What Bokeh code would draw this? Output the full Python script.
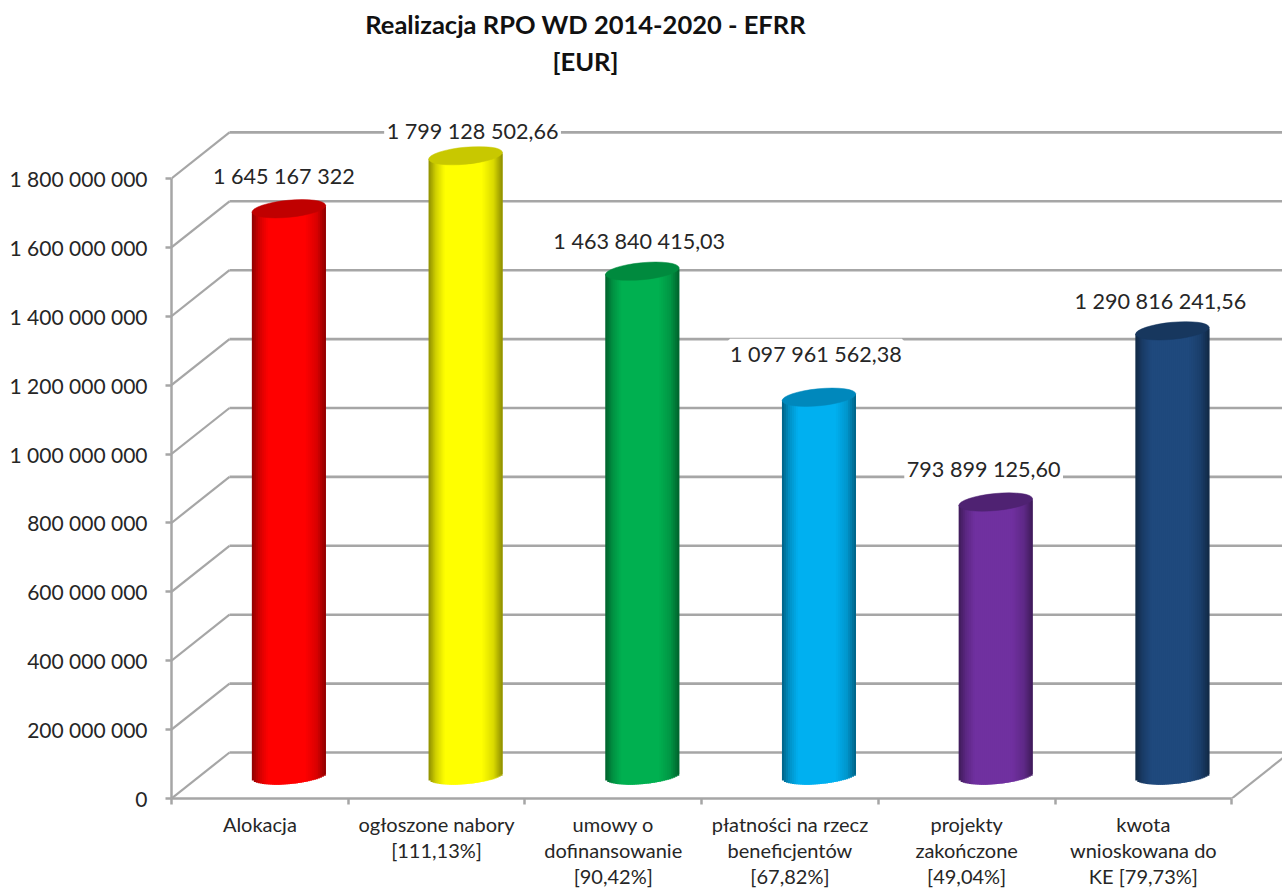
from bokeh.plotting import figure
from bokeh.core.properties import value
from bokeh.models import (ColumnDataSource, FixedTicker, Label, LabelSet, LinearAxis, Range1d)
from bokeh.embed import file_html
from bokeh.resources import INLINE
import numpy as np

title_text = "Realizacja RPO WD 2014-2020 - EFRR\n[EUR]"
categories = ["Alokacja", "ogłoszone nabory\n[111,13%]", "umowy o\ndofinansowanie\n[90,42%]",
              "płatności na rzecz\nbeneficjentów\n[67,82%]", "projekty\nzakończone\n[49,04%]",
              "kwota\nwnioskowana do\nKE [79,73%]"]
values = [1645167322, 1799128502.66, 1463840415.03, 1097961562.38, 793899125.60, 1290816241.56]
value_labels = ["1 645 167 322", "1 799 128 502,66", "1 463 840 415,03",
                "1 097 961 562,38", "793 899 125,60", "1 290 816 241,56"]
face_colors = ["#FF0000", "#FFFF00", "#00B050", "#00B0F0", "#7030A0", "#1F497D"]
cap_colors = ["#C00000", "#C8C800", "#008A3E", "#0088BC", "#4F2272", "#17375E"]
y_ticks = list(range(0, 2000000000, 200000000))
y_tick_labels = ["0", "200 000 000", "400 000 000", "600 000 000", "800 000 000", "1 000 000 000",
                 "1 200 000 000", "1 400 000 000", "1 600 000 000", "1 800 000 000"]
label_dx = [-5, 7, -3, -3, -12, -12]
label_dy = [33, 25, 30, 43, 33, 30]

GREY = "#A6A6A6"
TEXT = "#262626"
SLOT_PX = 176.7
STEP_PX = 68.9
LEFT_PX, FLOOR_PX = 171, 798
W, H = 1282, 889
px_x = 1 / SLOT_PX
px_y = 200000000 / STEP_PX
depth_x, depth_y = 58 * px_x, 46 * px_y

p = figure(width=W, height=H, frame_width=W - LEFT_PX, frame_height=FLOOR_PX,
           output_backend="svg", toolbar_location=None, title=None,
           x_range=Range1d(0, (W - LEFT_PX) * px_x), y_range=Range1d(0, FLOOR_PX * px_y),
           min_border_left=LEFT_PX, min_border_right=0, min_border_top=0, min_border_bottom=H - FLOOR_PX,
           x_axis_type=None, y_axis_type=None, outline_line_color=None)
p.grid.visible = False

# 3D wall lines
n = len(categories)
p.segment(x0=[depth_x] * len(y_ticks), y0=[v + depth_y for v in y_ticks],
          x1=[(W - LEFT_PX) * px_x] * len(y_ticks), y1=[v + depth_y for v in y_ticks],
          line_color=GREY, line_width=2.6)
p.segment(x0=[0] * len(y_ticks), y0=y_ticks, x1=[depth_x] * len(y_ticks),
          y1=[v + depth_y for v in y_ticks], line_color=GREY, line_width=2.2)
p.segment(x0=[n], y0=[0], x1=[n + depth_x], y1=[depth_y], line_color=GREY, line_width=2.2)

# Axes
ya = LinearAxis(ticker=FixedTicker(ticks=y_ticks), bounds=(0, y_ticks[-1]),
                major_label_overrides=dict(zip(y_ticks, y_tick_labels)),
                major_label_text_font="Lato", major_label_text_font_size="21px",
                major_label_text_color=TEXT, major_label_standoff=18,
                axis_line_color=GREY, axis_line_width=2.5, major_tick_line_color=GREY,
                major_tick_line_width=2.5, major_tick_in=0, major_tick_out=6, minor_tick_line_color=None)
p.add_layout(ya, "left")
centres = [i + 0.5 for i in range(n)]
xa = LinearAxis(ticker=FixedTicker(ticks=centres, minor_ticks=list(range(n + 1))), bounds=(0, n),
                major_label_overrides=dict(zip(centres, categories)),
                major_label_text_font="Lato", major_label_text_font_size="20px",
                major_label_text_color=TEXT, major_label_standoff=7, major_label_text_line_height=1.09,
                axis_line_color=GREY, axis_line_width=2.5, major_tick_line_color=None,
                major_tick_in=0, major_tick_out=6, minor_tick_line_color=GREY, minor_tick_line_width=2.5,
                minor_tick_in=0, minor_tick_out=6)
p.add_layout(xa, "below")

# Cylinders
HALF_W, HALF_H, TILT = 37.0, 8.5, np.radians(5.5)
c, s = np.cos(TILT), np.sin(TILT)
A = c * c / HALF_W ** 2 + s * s / HALF_H ** 2
B = c * s * (1 / HALF_W ** 2 - 1 / HALF_H ** 2)
C = s * s / HALF_W ** 2 + c * c / HALF_H ** 2


def lower_arc(dx):
    return (-B * dx - np.sqrt(np.clip(B * B * dx * dx - C * (A * dx * dx - 1), 0, None))) / C


def shade(hex_colour, f):
    rgb = np.array([int(hex_colour[i:i + 2], 16) for i in (1, 3, 5)])
    return "#%02x%02x%02x" % tuple(int(round(v)) for v in rgb * f)


STRIPS = 37
edges = np.linspace(-HALF_W, HALF_W, STRIPS + 1)
mids = (edges[:-1] + edges[1:]) / 2
t = (mids + HALF_W) / (2 * HALF_W)
bright = np.interp(t, [0, 0.1, 0.22, 0.72, 0.88, 1], [0.55, 0.82, 1, 1, 0.85, 0.55])

cx = [i + 0.5 + depth_x / 2 for i in range(n)]
base_y = depth_y / 2
for i, v in enumerate(values):
    cols = [shade(face_colors[i], f) for f in bright]
    arc = lower_arc(mids) * px_y
    # each strip runs on under the next one, so that no seams show between them
    rights = np.append(edges[2:], edges[-1])
    p.quad(left=cx[i] + edges[:-1] * px_x, right=cx[i] + rights * px_x,
           bottom=base_y + arc, top=base_y + v + arc + 2 * px_y,
           fill_color=cols, line_color=None)
    p.ellipse(x=[cx[i]], y=[base_y + v], width=2 * HALF_W, height=2 * HALF_H, angle=TILT,
              width_units="screen", height_units="screen",
              fill_color=cap_colors[i], line_color=cap_colors[i], line_width=0.5)

src = ColumnDataSource(dict(x=cx, y=[base_y + v for v in values], text=value_labels,
                            dx=label_dx, dy=label_dy))
p.add_layout(LabelSet(x="x", y="y", text="text", source=src, x_offset="dx", y_offset="dy",
                      text_align="center", text_baseline="middle", text_font=value("Lato"),
                      text_font_size="21.6px", text_color=TEXT, background_fill_color="white",
                      border_line_color="white", border_line_width=5))

p.add_layout(Label(x=414, y=FLOOR_PX - 42, x_units="screen", y_units="screen", text=title_text,
                   text_align="center", text_baseline="middle", text_font="Lato", text_font_style="bold",
                   text_font_size="25.5px", text_color="#111111", text_line_height=1.21))

open("out.html", "w").write(file_html(p, INLINE))
